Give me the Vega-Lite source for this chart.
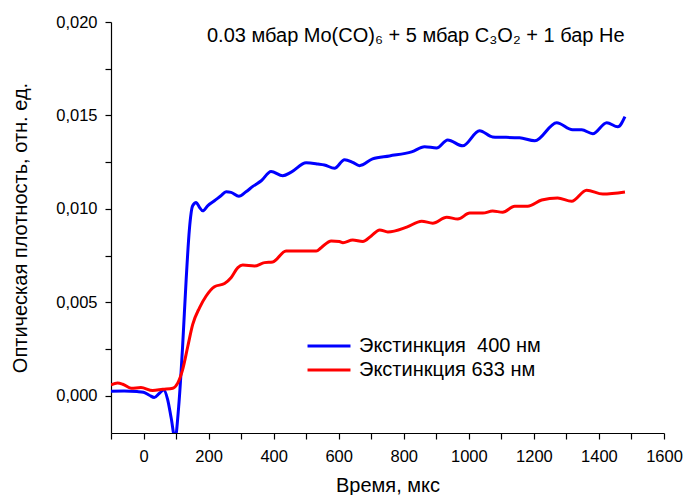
{
  "$schema": "https://vega.github.io/schema/vega-lite/v6.json",
  "width": 553,
  "height": 411,
  "autosize": "none",
  "padding": {"left": 111, "top": 22, "right": 20, "bottom": 62},
  "background": "white",
  "config": {
    "view": {"stroke": null},
    "font": "Liberation Sans",
    "axis": {
      "domainColor": "black",
      "domainWidth": 1.2,
      "tickColor": "black",
      "tickWidth": 1.2,
      "tickSize": 6,
      "labelColor": "black",
      "labelFont": "Liberation Sans",
      "labelFontSize": 16.5,
      "labelFlush": false,
      "titleColor": "black",
      "titleFont": "Liberation Sans",
      "titleFontWeight": "normal",
      "grid": false
    }
  },
  "title": {
    "text": "0.03 мбар Mo(CO)₆ + 5 мбар C₃O₂ + 1 бар He",
    "anchor": "start",
    "frame": "group",
    "dx": 96,
    "offset": -32,
    "fontSize": 20,
    "fontWeight": "normal",
    "font": "Liberation Sans",
    "color": "black"
  },
  "data": {
    "values": [
      {"series": "Экстинкция  400 нм", "t": -100, "v": 0.00024},
      {"series": "Экстинкция  400 нм", "t": -60, "v": 0.00025},
      {"series": "Экстинкция  400 нм", "t": -20, "v": 0.00022},
      {"series": "Экстинкция  400 нм", "t": 0, "v": 0.00018},
      {"series": "Экстинкция  400 нм", "t": 18, "v": 0.00002},
      {"series": "Экстинкция  400 нм", "t": 33, "v": -0.0001},
      {"series": "Экстинкция  400 нм", "t": 49, "v": 0.00013},
      {"series": "Экстинкция  400 нм", "t": 62, "v": 0.0003},
      {"series": "Экстинкция  400 нм", "t": 74, "v": -0.0002},
      {"series": "Экстинкция  400 нм", "t": 85, "v": -0.0012},
      {"series": "Экстинкция  400 нм", "t": 97, "v": -0.0023},
      {"series": "Экстинкция  400 нм", "t": 108, "v": -0.0006},
      {"series": "Экстинкция  400 нм", "t": 120, "v": 0.0026},
      {"series": "Экстинкция  400 нм", "t": 131, "v": 0.0062},
      {"series": "Экстинкция  400 нм", "t": 141, "v": 0.0089},
      {"series": "Экстинкция  400 нм", "t": 151, "v": 0.01016},
      {"series": "Экстинкция  400 нм", "t": 162, "v": 0.01034},
      {"series": "Экстинкция  400 нм", "t": 172, "v": 0.01008},
      {"series": "Экстинкция  400 нм", "t": 182, "v": 0.00989},
      {"series": "Экстинкция  400 нм", "t": 197, "v": 0.01016},
      {"series": "Экстинкция  400 нм", "t": 218, "v": 0.01043},
      {"series": "Экстинкция  400 нм", "t": 238, "v": 0.0107},
      {"series": "Экстинкция  400 нм", "t": 254, "v": 0.01091},
      {"series": "Экстинкция  400 нм", "t": 269, "v": 0.01088},
      {"series": "Экстинкция  400 нм", "t": 293, "v": 0.01067},
      {"series": "Экстинкция  400 нм", "t": 315, "v": 0.01091},
      {"series": "Экстинкция  400 нм", "t": 336, "v": 0.0112},
      {"series": "Экстинкция  400 нм", "t": 362, "v": 0.0115},
      {"series": "Экстинкция  400 нм", "t": 392, "v": 0.012},
      {"series": "Экстинкция  400 нм", "t": 428, "v": 0.01177},
      {"series": "Экстинкция  400 нм", "t": 454, "v": 0.01196},
      {"series": "Экстинкция  400 нм", "t": 500, "v": 0.01246},
      {"series": "Экстинкция  400 нм", "t": 536, "v": 0.0124},
      {"series": "Экстинкция  400 нм", "t": 556, "v": 0.01235},
      {"series": "Экстинкция  400 нм", "t": 587, "v": 0.01217},
      {"series": "Экстинкция  400 нм", "t": 618, "v": 0.01263},
      {"series": "Экстинкция  400 нм", "t": 643, "v": 0.01249},
      {"series": "Экстинкция  400 нм", "t": 664, "v": 0.01231},
      {"series": "Экстинкция  400 нм", "t": 704, "v": 0.01267},
      {"series": "Экстинкция  400 нм", "t": 756, "v": 0.01283},
      {"series": "Экстинкция  400 нм", "t": 824, "v": 0.01305},
      {"series": "Экстинкция  400 нм", "t": 864, "v": 0.01332},
      {"series": "Экстинкция  400 нм", "t": 901, "v": 0.01326},
      {"series": "Экстинкция  400 нм", "t": 935, "v": 0.01369},
      {"series": "Экстинкция  400 нм", "t": 981, "v": 0.01337},
      {"series": "Экстинкция  400 нм", "t": 1033, "v": 0.01418},
      {"series": "Экстинкция  400 нм", "t": 1073, "v": 0.01385},
      {"series": "Экстинкция  400 нм", "t": 1156, "v": 0.0138},
      {"series": "Экстинкция  400 нм", "t": 1203, "v": 0.01364},
      {"series": "Экстинкция  400 нм", "t": 1270, "v": 0.01461},
      {"series": "Экстинкция  400 нм", "t": 1319, "v": 0.01423},
      {"series": "Экстинкция  400 нм", "t": 1347, "v": 0.01423},
      {"series": "Экстинкция  400 нм", "t": 1381, "v": 0.01402},
      {"series": "Экстинкция  400 нм", "t": 1424, "v": 0.01461},
      {"series": "Экстинкция  400 нм", "t": 1458, "v": 0.01439},
      {"series": "Экстинкция  400 нм", "t": 1480, "v": 0.01493},
      {"series": "Экстинкция 633 нм", "t": -100, "v": 0.00058},
      {"series": "Экстинкция 633 нм", "t": -80, "v": 0.00067},
      {"series": "Экстинкция 633 нм", "t": -64, "v": 0.00061},
      {"series": "Экстинкция 633 нм", "t": -38, "v": 0.0004},
      {"series": "Экстинкция 633 нм", "t": -8, "v": 0.00043},
      {"series": "Экстинкция 633 нм", "t": 28, "v": 0.00027},
      {"series": "Экстинкция 633 нм", "t": 59, "v": 0.00034},
      {"series": "Экстинкция 633 нм", "t": 90, "v": 0.0004},
      {"series": "Экстинкция 633 нм", "t": 105, "v": 0.00067},
      {"series": "Экстинкция 633 нм", "t": 120, "v": 0.00138},
      {"series": "Экстинкция 633 нм", "t": 136, "v": 0.00263},
      {"series": "Экстинкция 633 нм", "t": 151, "v": 0.0038},
      {"series": "Экстинкция 633 нм", "t": 172, "v": 0.0047},
      {"series": "Экстинкция 633 нм", "t": 192, "v": 0.00532},
      {"series": "Экстинкция 633 нм", "t": 218, "v": 0.00583},
      {"series": "Экстинкция 633 нм", "t": 249, "v": 0.006},
      {"series": "Экстинкция 633 нм", "t": 269, "v": 0.00631},
      {"series": "Экстинкция 633 нм", "t": 290, "v": 0.00685},
      {"series": "Экстинкция 633 нм", "t": 305, "v": 0.00699},
      {"series": "Экстинкция 633 нм", "t": 341, "v": 0.00694},
      {"series": "Экстинкция 633 нм", "t": 372, "v": 0.00712},
      {"series": "Экстинкция 633 нм", "t": 397, "v": 0.00715},
      {"series": "Экстинкция 633 нм", "t": 438, "v": 0.00774},
      {"series": "Экстинкция 633 нм", "t": 479, "v": 0.00774},
      {"series": "Экстинкция 633 нм", "t": 531, "v": 0.00774},
      {"series": "Экстинкция 633 нм", "t": 546, "v": 0.00792},
      {"series": "Экстинкция 633 нм", "t": 577, "v": 0.00828},
      {"series": "Экстинкция 633 нм", "t": 602, "v": 0.00825},
      {"series": "Экстинкция 633 нм", "t": 613, "v": 0.00819},
      {"series": "Экстинкция 633 нм", "t": 643, "v": 0.00833},
      {"series": "Экстинкция 633 нм", "t": 674, "v": 0.00825},
      {"series": "Экстинкция 633 нм", "t": 700, "v": 0.00855},
      {"series": "Экстинкция 633 нм", "t": 726, "v": 0.00887},
      {"series": "Экстинкция 633 нм", "t": 751, "v": 0.00876},
      {"series": "Экстинкция 633 нм", "t": 809, "v": 0.00902},
      {"series": "Экстинкция 633 нм", "t": 855, "v": 0.00934},
      {"series": "Экстинкция 633 нм", "t": 889, "v": 0.00923},
      {"series": "Экстинкция 633 нм", "t": 932, "v": 0.00955},
      {"series": "Экстинкция 633 нм", "t": 966, "v": 0.00945},
      {"series": "Экстинкция 633 нм", "t": 1003, "v": 0.00977},
      {"series": "Экстинкция 633 нм", "t": 1043, "v": 0.00977},
      {"series": "Экстинкция 633 нм", "t": 1073, "v": 0.00988},
      {"series": "Экстинкция 633 нм", "t": 1104, "v": 0.00982},
      {"series": "Экстинкция 633 нм", "t": 1141, "v": 0.01014},
      {"series": "Экстинкция 633 нм", "t": 1181, "v": 0.01014},
      {"series": "Экстинкция 633 нм", "t": 1224, "v": 0.01047},
      {"series": "Экстинкция 633 нм", "t": 1273, "v": 0.01058},
      {"series": "Экстинкция 633 нм", "t": 1316, "v": 0.01041},
      {"series": "Экстинкция 633 нм", "t": 1362, "v": 0.011},
      {"series": "Экстинкция 633 нм", "t": 1412, "v": 0.01079},
      {"series": "Экстинкция 633 нм", "t": 1480, "v": 0.0109}
    ]
  },
  "mark": {"type": "line", "interpolate": "monotone", "strokeWidth": 3, "clip": true},
  "encoding": {
    "x": {
      "field": "t",
      "type": "quantitative",
      "scale": {"domain": [-100, 1600], "nice": false, "zero": false},
      "axis": {
        "title": "Время, мкс",
        "titleFontSize": 20,
        "values": [-100, 0, 100, 200, 300, 400, 500, 600, 700, 800, 900, 1000, 1100, 1200, 1300, 1400, 1500, 1600],
        "format": "d",
        "labelExpr": "datum.value % 200 == 0 ? datum.label : ''",
        "labelPadding": 9,
        "titlePadding": 11
      }
    },
    "y": {
      "field": "v",
      "type": "quantitative",
      "scale": {"domain": [-0.002, 0.02], "nice": false, "zero": false},
      "axis": {
        "title": "Оптическая плотность, отн. ед.",
        "titleFontSize": 20,
        "values": [0, 0.0025, 0.005, 0.0075, 0.01, 0.0125, 0.015, 0.0175, 0.02],
        "labelExpr": "round(datum.value * 10000) % 50 == 0 ? replace(format(datum.value, '.3f'), '.', ',') : ''",
        "labelPadding": 8,
        "titlePadding": 25
      }
    },
    "color": {
      "field": "series",
      "type": "nominal",
      "scale": {"domain": ["Экстинкция  400 нм", "Экстинкция 633 нм"], "range": ["#0000ff", "#ff0000"]},
      "legend": {
        "orient": "none",
        "legendX": 208,
        "legendY": 314,
        "padding": 0,
        "title": null,
        "symbolType": "M-3,0H3",
        "symbolSize": 205,
        "symbolStrokeWidth": 3,
        "labelFont": "Liberation Sans",
        "labelFontSize": 20,
        "labelLimit": 400,
        "labelColor": "black",
        "labelOffset": 20,
        "rowPadding": 4,
        "labelExpr": "replace(datum.label, '  ', '\u00a0 ')"
      }
    }
  }
}
